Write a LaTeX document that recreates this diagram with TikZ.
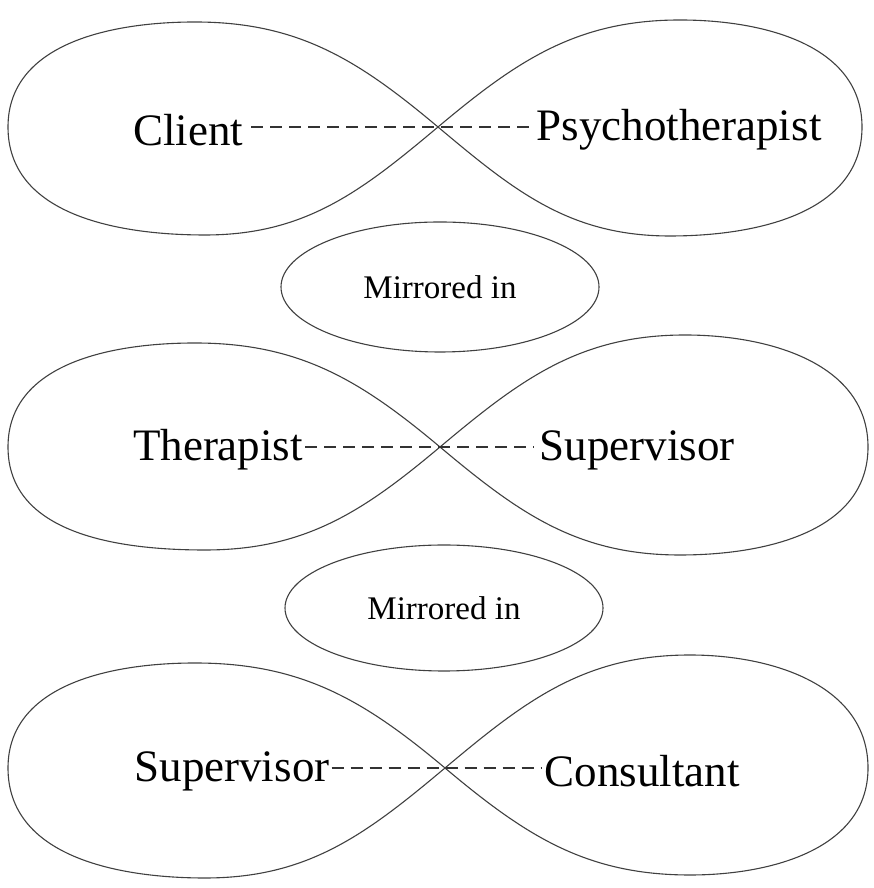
\documentclass[tikz,border=0pt]{standalone}
\usepackage{fontspec}
\setmainfont{Liberation Serif}
\usetikzlibrary{shapes.geometric}
\begin{document}
\begin{tikzpicture}[x=1pt,y=1pt,
  loop/.style={draw=black!75, line width=1.1pt},
  big/.style={font=\fontsize{45}{50}\selectfont, inner sep=2pt, text=black},
  oval/.style={draw=black!75, line width=1.1pt, ellipse, inner sep=0pt,
    font=\fontsize{33}{38}\selectfont, text=black},
  link/.style={draw=black!80, line width=1.2pt, dash pattern=on 12pt off 7pt}
]
\useasboundingbox (0,0) rectangle (873,888);
% ---------- figure 1 ----------
\coordinate (c1) at (438,761);
\draw[loop] (c1) to[out=140,in=0] (195,866) to[out=180,in=90] (8,761)
  to[out=-90,in=180] (205,653) to[out=0,in=-140] (c1);
\draw[loop] (c1) to[out=40,in=180] (680,868) to[out=0,in=90] (862,761)
  to[out=-90,in=0] (670,652) to[out=180,in=-40] (c1);
\node[big] (client) at (188,758) {Client};
\node[big] (psy) at (679,758) {Psychotherapist};
\draw[link] ([xshift=6pt]client.east |- c1) -- ([xshift=-4pt]psy.west |- c1);
% ---------- ellipse 1 ----------
\node[oval, minimum width=318, minimum height=130] (m1) at (440,601) {Mirrored in};
% ---------- figure 2 ----------
\coordinate (c2) at (440,441);
\draw[loop] (c2) to[out=140,in=0] (195,545) to[out=180,in=90] (8,441)
  to[out=-90,in=180] (205,338) to[out=0,in=-140] (c2);
\draw[loop] (c2) to[out=40,in=180] (685,553) to[out=0,in=90] (868,441)
  to[out=-90,in=0] (680,333) to[out=180,in=-40] (c2);
\node[big] (ther) at (218,438) {Therapist};
\node[big] (sup1) at (637,438) {Supervisor};
\draw[link] (ther.east |- c2) -- ([xshift=-4pt]sup1.west |- c2);
% ---------- ellipse 2 ----------
\node[oval, minimum width=318, minimum height=126] (m2) at (444,280) {Mirrored in};
% ---------- figure 3 ----------
\coordinate (c3) at (445,120);
\draw[loop] (c3) to[out=140,in=0] (195,225) to[out=180,in=90] (8,120)
  to[out=-90,in=180] (205,10) to[out=0,in=-140] (c3);
\draw[loop] (c3) to[out=40,in=180] (690,233) to[out=0,in=90] (868,120)
  to[out=-90,in=0] (690,13) to[out=180,in=-40] (c3);
\node[big] (sup2) at (232,117) {Supervisor};
\node[big] (cons) at (642,117) {Consultant};
\draw[link] (sup2.east |- c3) -- (cons.west |- c3);
\end{tikzpicture}
\end{document}
